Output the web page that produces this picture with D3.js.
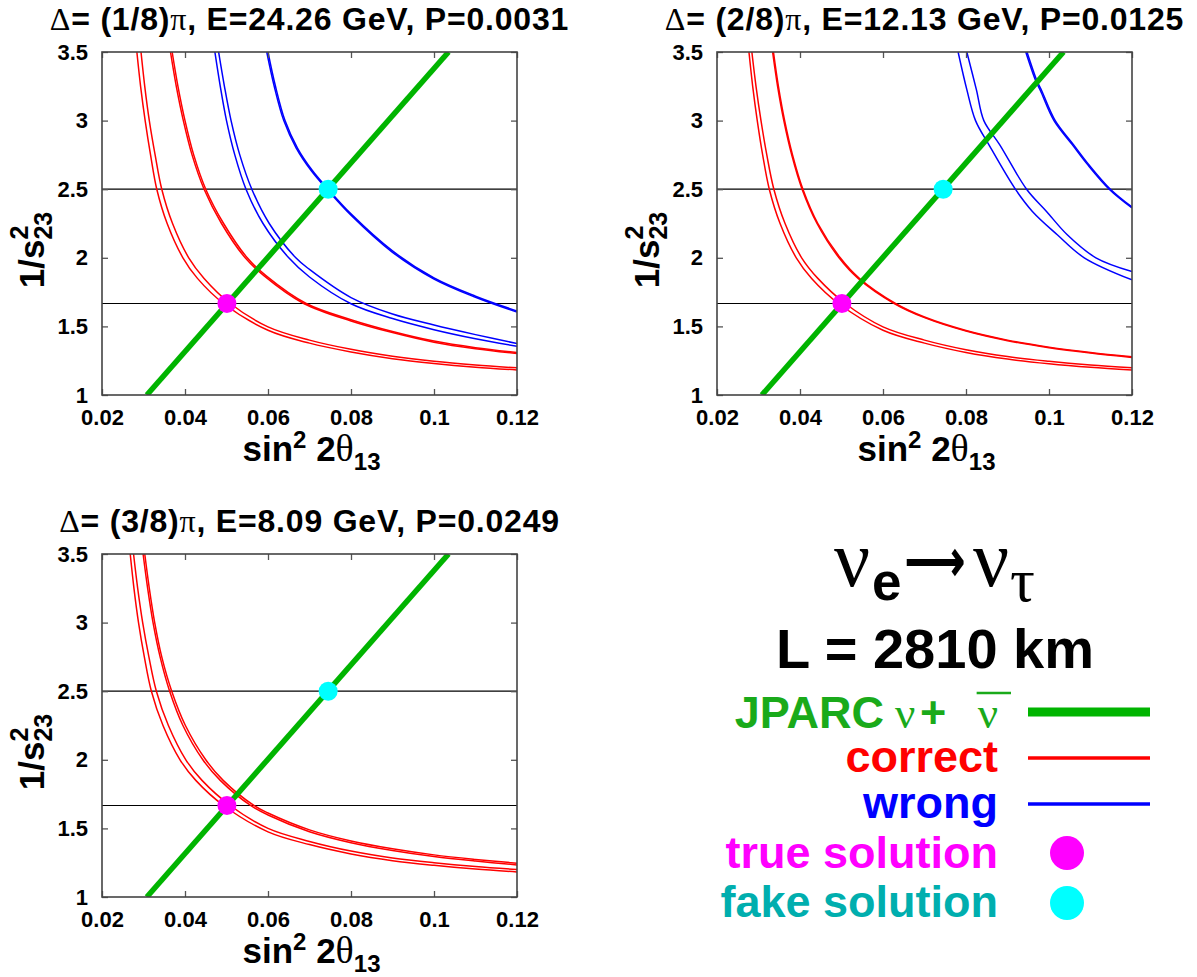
<!DOCTYPE html>
<html>
<head>
<meta charset="utf-8">
<script src="https://cdn.jsdelivr.net/npm/d3@7"></script>
<style>
  body { margin: 0; background: #fff; }
  text { font-family: 'Liberation Sans', Arial, Helvetica, sans-serif; font-weight: bold; }
  .sym { font-family: 'Liberation Serif', 'Times New Roman', serif; font-weight: normal; }
</style>
</head>
<body>
<svg width="1197" height="977"></svg>
<script>
// ---- data ----
const xTicks = [0.02, 0.04, 0.06, 0.08, 0.1, 0.12];
const yTicks = [1, 1.5, 2, 2.5, 3, 3.5];
const refLevels = [2.5, 1.667];               // horizontal reference lines
const jparcLine = [[0.0308, 1], [0.1035, 3.5]]; // JPARC nu + nubar
const trueSolution = [0.0501, 1.667];
const fakeSolution = [0.0745, 2.5];

const deltaLabels = ['(1/8)', '(2/8)', '(3/8)'];
const energyLabels = ['24.26', '12.13', '8.09'];
const probLabels = ['0.0031', '0.0125', '0.0249'];

// panel 1 : delta = pi/8
const p1Correct = [
  [[0.0284,3.5],[0.0293,3.25],[0.0304,3.0],[0.0317,2.75],[0.0332,2.5],[0.0357,2.25],[0.0395,2.0],[0.0430,1.85],[0.0493,1.667],[0.060,1.472],[0.070,1.378],[0.080,1.314],[0.090,1.265],[0.100,1.230],[0.110,1.203],[0.120,1.183]],
  [[0.0294,3.5],[0.0303,3.25],[0.0314,3.0],[0.0328,2.75],[0.0344,2.5],[0.0370,2.25],[0.0409,2.0],[0.0446,1.85],[0.0509,1.667],[0.060,1.497],[0.070,1.400],[0.080,1.333],[0.090,1.283],[0.100,1.246],[0.110,1.219],[0.120,1.198]],
  [[0.0365,3.5],[0.0379,3.25],[0.0396,3.0],[0.0417,2.75],[0.0446,2.5],[0.0488,2.25],[0.0545,2.0],[0.0590,1.87],[0.0686,1.667],[0.080,1.540],[0.090,1.455],[0.100,1.385],[0.110,1.337],[0.120,1.302]],
  [[0.0369,3.5],[0.0383,3.25],[0.0400,3.0],[0.0421,2.75],[0.0450,2.5],[0.0493,2.25],[0.0550,2.0],[0.0595,1.87],[0.0692,1.667],[0.080,1.549],[0.090,1.463],[0.100,1.393],[0.110,1.345],[0.120,1.310]]
];
const p1Wrong = [
  [[0.0472,3.5],[0.0485,3.25],[0.0500,3.0],[0.0520,2.75],[0.0547,2.5],[0.0588,2.25],[0.0650,2.0],[0.0700,1.86],[0.080,1.665],[0.090,1.557],[0.100,1.476],[0.110,1.41],[0.120,1.355]],
  [[0.0481,3.5],[0.0495,3.25],[0.0511,3.0],[0.0532,2.75],[0.0561,2.5],[0.0603,2.25],[0.0667,2.0],[0.0700,1.915],[0.080,1.71],[0.090,1.59],[0.100,1.51],[0.110,1.44],[0.120,1.375]],
  [[0.0597,3.5],[0.0615,3.25],[0.0638,3.0],[0.0668,2.80],[0.0703,2.64],[0.0742,2.5],[0.080,2.31],[0.090,2.04],[0.100,1.845],[0.110,1.712],[0.120,1.604]],
  [[0.0600,3.5],[0.0618,3.25],[0.0641,3.0],[0.0671,2.80],[0.0706,2.64],[0.0745,2.5],[0.080,2.32],[0.090,2.05],[0.100,1.853],[0.110,1.720],[0.120,1.612]]
];

// panel 2 : delta = 2pi/8
const p2Correct = [
  [[0.0277,3.5],[0.0286,3.25],[0.0297,3.0],[0.0310,2.75],[0.0326,2.5],[0.0352,2.25],[0.0391,2.0],[0.0428,1.85],[0.0493,1.667],[0.060,1.472],[0.070,1.378],[0.080,1.310],[0.090,1.262],[0.100,1.228],[0.110,1.202],[0.120,1.182]],
  [[0.0284,3.5],[0.0294,3.25],[0.0306,3.0],[0.0320,2.75],[0.0337,2.5],[0.0364,2.25],[0.0404,2.0],[0.0443,1.85],[0.0509,1.667],[0.060,1.497],[0.070,1.400],[0.080,1.330],[0.090,1.280],[0.100,1.246],[0.110,1.219],[0.120,1.198]],
  [[0.0334,3.5],[0.0346,3.25],[0.0361,3.0],[0.0380,2.75],[0.0405,2.5],[0.0441,2.25],[0.0494,2.0],[0.0540,1.85],[0.0627,1.667],[0.070,1.564],[0.080,1.466],[0.090,1.396],[0.100,1.345],[0.110,1.306],[0.120,1.274]],
  [[0.0336,3.5],[0.0348,3.25],[0.0363,3.0],[0.0382,2.75],[0.0407,2.5],[0.0443,2.25],[0.0497,2.0],[0.0543,1.85],[0.0630,1.667],[0.070,1.568],[0.080,1.470],[0.090,1.400],[0.100,1.349],[0.110,1.310],[0.120,1.278]]
];
const p2Wrong = [
  [[0.0781,3.5],[0.0802,3.226],[0.0823,3.0],[0.0855,2.825],[0.0919,2.5],[0.0960,2.338],[0.1020,2.168],[0.1085,2.0],[0.120,1.839]],
  [[0.0802,3.5],[0.0825,3.226],[0.0843,3.0],[0.0881,2.825],[0.0946,2.5],[0.0994,2.338],[0.1044,2.168],[0.1113,2.0],[0.120,1.900]],
  [[0.0944,3.5],[0.0968,3.29],[0.0980,3.214],[0.1012,3.0],[0.1056,2.825],[0.1093,2.679],[0.1145,2.5],[0.120,2.363]],
  [[0.0947,3.5],[0.0971,3.29],[0.0983,3.214],[0.1015,3.0],[0.1059,2.825],[0.1096,2.679],[0.1148,2.5],[0.120,2.370]]
];

// panel 3 : delta = 3pi/8
const p3Correct = [
  [[0.0268,3.5],[0.0277,3.25],[0.0288,3.0],[0.0302,2.75],[0.0319,2.5],[0.0347,2.25],[0.0388,2.0],[0.0426,1.85],[0.0493,1.667],[0.060,1.475],[0.070,1.382],[0.080,1.314],[0.090,1.265],[0.100,1.231],[0.110,1.204],[0.120,1.183]],
  [[0.0276,3.5],[0.0286,3.25],[0.0298,3.0],[0.0313,2.75],[0.0331,2.5],[0.0360,2.25],[0.0402,2.0],[0.0441,1.85],[0.0509,1.667],[0.060,1.500],[0.070,1.405],[0.080,1.335],[0.090,1.285],[0.100,1.250],[0.110,1.222],[0.120,1.200]],
  [[0.0299,3.5],[0.0310,3.25],[0.0323,3.0],[0.0340,2.75],[0.0363,2.5],[0.0395,2.25],[0.0443,2.0],[0.0485,1.85],[0.0558,1.667],[0.060,1.598],[0.070,1.476],[0.080,1.396],[0.090,1.339],[0.100,1.295],[0.110,1.262],[0.120,1.234]],
  [[0.0303,3.5],[0.0314,3.25],[0.0327,3.0],[0.0344,2.75],[0.0368,2.5],[0.0401,2.25],[0.0450,2.0],[0.0492,1.85],[0.0566,1.667],[0.060,1.612],[0.070,1.489],[0.080,1.408],[0.090,1.351],[0.100,1.307],[0.110,1.274],[0.120,1.246]]
];
const p3Wrong = [];

const correctSets = [p1Correct, p2Correct, p3Correct];
const wrongSets = [p1Wrong, p2Wrong, p3Wrong];

// ---- layout ----
const W = 415, H = 343;
const panelOrigins = [[102, 52], [717, 52], [102, 554]];
const cGreen = '#00b400', cRed = '#ff0000', cBlue = '#0000ff';
const cMagenta = '#ff00ff', cCyan = '#00ffff', cGreenText = '#1aaa1a';

const svg = d3.select('svg');

const x = d3.scaleLinear().domain([0.02, 0.12]).range([0, W]);
const y = d3.scaleLinear().domain([1, 3.5]).range([H, 0]);
const line = d3.line().x(d => x(d[0])).y(d => y(d[1])).curve(d3.curveCatmullRom.alpha(0.5));

panelOrigins.forEach((o, i) => {
  const g = svg.append('g').attr('transform', `translate(${o[0]},${o[1]})`);

  g.append('clipPath').attr('id', 'clip' + i)
    .append('rect').attr('width', W).attr('height', H);
  const plot = g.append('g').attr('clip-path', `url(#clip${i})`);

  // reference levels
  plot.selectAll('.ref').data(refLevels).enter().append('line')
    .attr('x1', 0).attr('x2', W)
    .attr('y1', d => y(d)).attr('y2', d => y(d))
    .attr('stroke', '#000').attr('stroke-width', 1.2);

  // curves
  plot.selectAll('.wrong').data(wrongSets[i]).enter().append('path')
    .attr('d', line).attr('fill', 'none')
    .attr('stroke', cBlue).attr('stroke-width', 1.5);
  plot.selectAll('.correct').data(correctSets[i]).enter().append('path')
    .attr('d', line).attr('fill', 'none')
    .attr('stroke', cRed).attr('stroke-width', 1.5);

  plot.append('path').datum(jparcLine)
    .attr('d', d3.line().x(d => x(d[0])).y(d => y(d[1])))
    .attr('stroke', cGreen).attr('stroke-width', 5.5);

  g.append('circle').attr('cx', x(trueSolution[0])).attr('cy', y(trueSolution[1]))
    .attr('r', 9.5).attr('fill', cMagenta);
  g.append('circle').attr('cx', x(fakeSolution[0])).attr('cy', y(fakeSolution[1]))
    .attr('r', 9.5).attr('fill', cCyan);

  // axes with inward ticks, mirrored
  const ax = [
    d3.axisBottom(x).tickValues(xTicks).tickSize(-6).tickPadding(14).tickFormat(d => String(d)),
    d3.axisLeft(y).tickValues(yTicks).tickSize(-6).tickPadding(14).tickFormat(d => String(d)),
    d3.axisTop(x).tickValues(xTicks).tickSize(-6).tickFormat(''),
    d3.axisRight(y).tickValues(yTicks).tickSize(-6).tickFormat('')
  ];
  const tr = [`translate(0,${H})`, null, null, `translate(${W},0)`];
  ax.forEach((a, k) => {
    const ag = g.append('g').attr('transform', tr[k]).call(a);
    ag.select('.domain').remove();
    ag.selectAll('line').attr('stroke', '#555').attr('stroke-width', 1.3);
    ag.selectAll('text').attr('fill', '#000').attr('font-size', 22)
      .attr('font-family', "'Liberation Sans', Arial, sans-serif").attr('font-weight', 'bold');
  });
  g.append('rect').attr('width', W).attr('height', H)
    .attr('fill', 'none').attr('stroke', '#444').attr('stroke-width', 1.6);

  // title
  const t = g.append('text').attr('x', W / 2).attr('y', -22)
    .attr('text-anchor', 'middle').attr('font-size', 32).attr('letter-spacing', 0.8);
  t.append('tspan').attr('class', 'sym').text('\u0394');
  t.append('tspan').text('= ' + deltaLabels[i]);
  t.append('tspan').attr('class', 'sym').text('\u03c0');
  t.append('tspan').text(', E=' + energyLabels[i] + ' GeV, P=' + probLabels[i]);

  // x axis title: sin^2 2theta_13
  const xl = g.append('text').attr('x', W / 2 + 2).attr('y', H + 66)
    .attr('text-anchor', 'middle').attr('font-size', 35);
  xl.append('tspan').text('sin');
  xl.append('tspan').attr('font-size', 24).attr('dy', -13).text('2');
  xl.append('tspan').attr('dy', 13).text('\u00a02');
  xl.append('tspan').attr('class', 'sym').attr('font-size', 38).text('\u03b8');
  xl.append('tspan').attr('font-size', 24).attr('dy', 9).text('13');

  // y axis title: 1/s^2_23 (stacked)
  const yg = g.append('g').attr('transform', `translate(${-58},${198}) rotate(-90)`);
  const main = yg.append('text').attr('font-size', 35).text('1/s');
  const mw = main.node().getComputedTextLength();
  const sub = yg.append('text').attr('font-size', 25).attr('y', 8).text('23');
  const total = mw + sub.node().getComputedTextLength();
  main.attr('x', -total / 2);
  sub.attr('x', -total / 2 + mw);
  yg.append('text').attr('font-size', 25).attr('x', -total / 2 + mw).attr('y', -16).text('2');
});

// ---- legend / annotation block ----
const lg = svg.append('g');
lg.append('text').attr('class', 'sym').attr('x', 834).attr('y', 586).attr('font-size', 80).text('\u03bd');
lg.append('text').attr('x', 872).attr('y', 600).attr('font-size', 53).text('e');
lg.append('text').attr('x', 905).attr('y', 581).attr('font-size', 60)
  .attr('font-family', "'DejaVu Sans', sans-serif").attr('font-weight', 'normal')
  .attr('textLength', 60).attr('lengthAdjust', 'spacingAndGlyphs').text('\u27f6');
lg.append('text').attr('class', 'sym').attr('x', 973).attr('y', 586).attr('font-size', 80).text('\u03bd');
lg.append('text').attr('class', 'sym').attr('x', 1010).attr('y', 601).attr('font-size', 62).text('\u03c4');

lg.append('text').attr('x', 935).attr('y', 668).attr('text-anchor', 'middle')
  .attr('font-size', 56).text('L = 2810 km');

const legendLabels = ['correct', 'wrong', 'true solution', 'fake solution'];
const legendColors = [cRed, cBlue, cMagenta, '#00aeae'];
const legendBaselines = [772, 818, 868, 917];
const textX = 998, keyX1 = 1028, keyX2 = 1150;

// JPARC entry, pieces set apart as in the original
lg.append('text').attr('x', 884).attr('y', 728).attr('text-anchor', 'end')
  .attr('font-size', 45).attr('fill', cGreenText).text('JPARC');
lg.append('text').attr('class', 'sym').attr('x', 895).attr('y', 728)
  .attr('font-size', 45).attr('fill', cGreenText).text('\u03bd');
lg.append('text').attr('x', 920).attr('y', 728)
  .attr('font-size', 45).attr('fill', cGreenText).text('+');
const nb = lg.append('text').attr('class', 'sym').attr('x', textX).attr('y', 728)
  .attr('text-anchor', 'end').attr('font-size', 45).attr('fill', cGreenText).text('\u03bd');
const nbb = nb.node().getBBox();
lg.append('line').attr('x1', nbb.x - 1).attr('x2', nbb.x + nbb.width + 13)
  .attr('y1', 693).attr('y2', 693).attr('stroke', cGreenText).attr('stroke-width', 2.5);
lg.append('line').attr('x1', keyX1).attr('x2', keyX2).attr('y1', 712).attr('y2', 712)
  .attr('stroke', cGreen).attr('stroke-width', 9);

lg.selectAll('.lab').data(legendLabels).enter().append('text')
  .attr('x', textX).attr('y', (d, k) => legendBaselines[k])
  .attr('text-anchor', 'end').attr('font-size', 45)
  .attr('fill', (d, k) => legendColors[k]).text(d => d);

lg.append('line').attr('x1', keyX1).attr('x2', keyX2).attr('y1', 758).attr('y2', 758)
  .attr('stroke', cRed).attr('stroke-width', 3.5);
lg.append('line').attr('x1', keyX1).attr('x2', keyX2).attr('y1', 804).attr('y2', 804)
  .attr('stroke', cBlue).attr('stroke-width', 3.5);
lg.append('circle').attr('cx', 1067).attr('cy', 853).attr('r', 17).attr('fill', cMagenta);
lg.append('circle').attr('cx', 1067).attr('cy', 903).attr('r', 17).attr('fill', cCyan);
</script>
</body>
</html>
